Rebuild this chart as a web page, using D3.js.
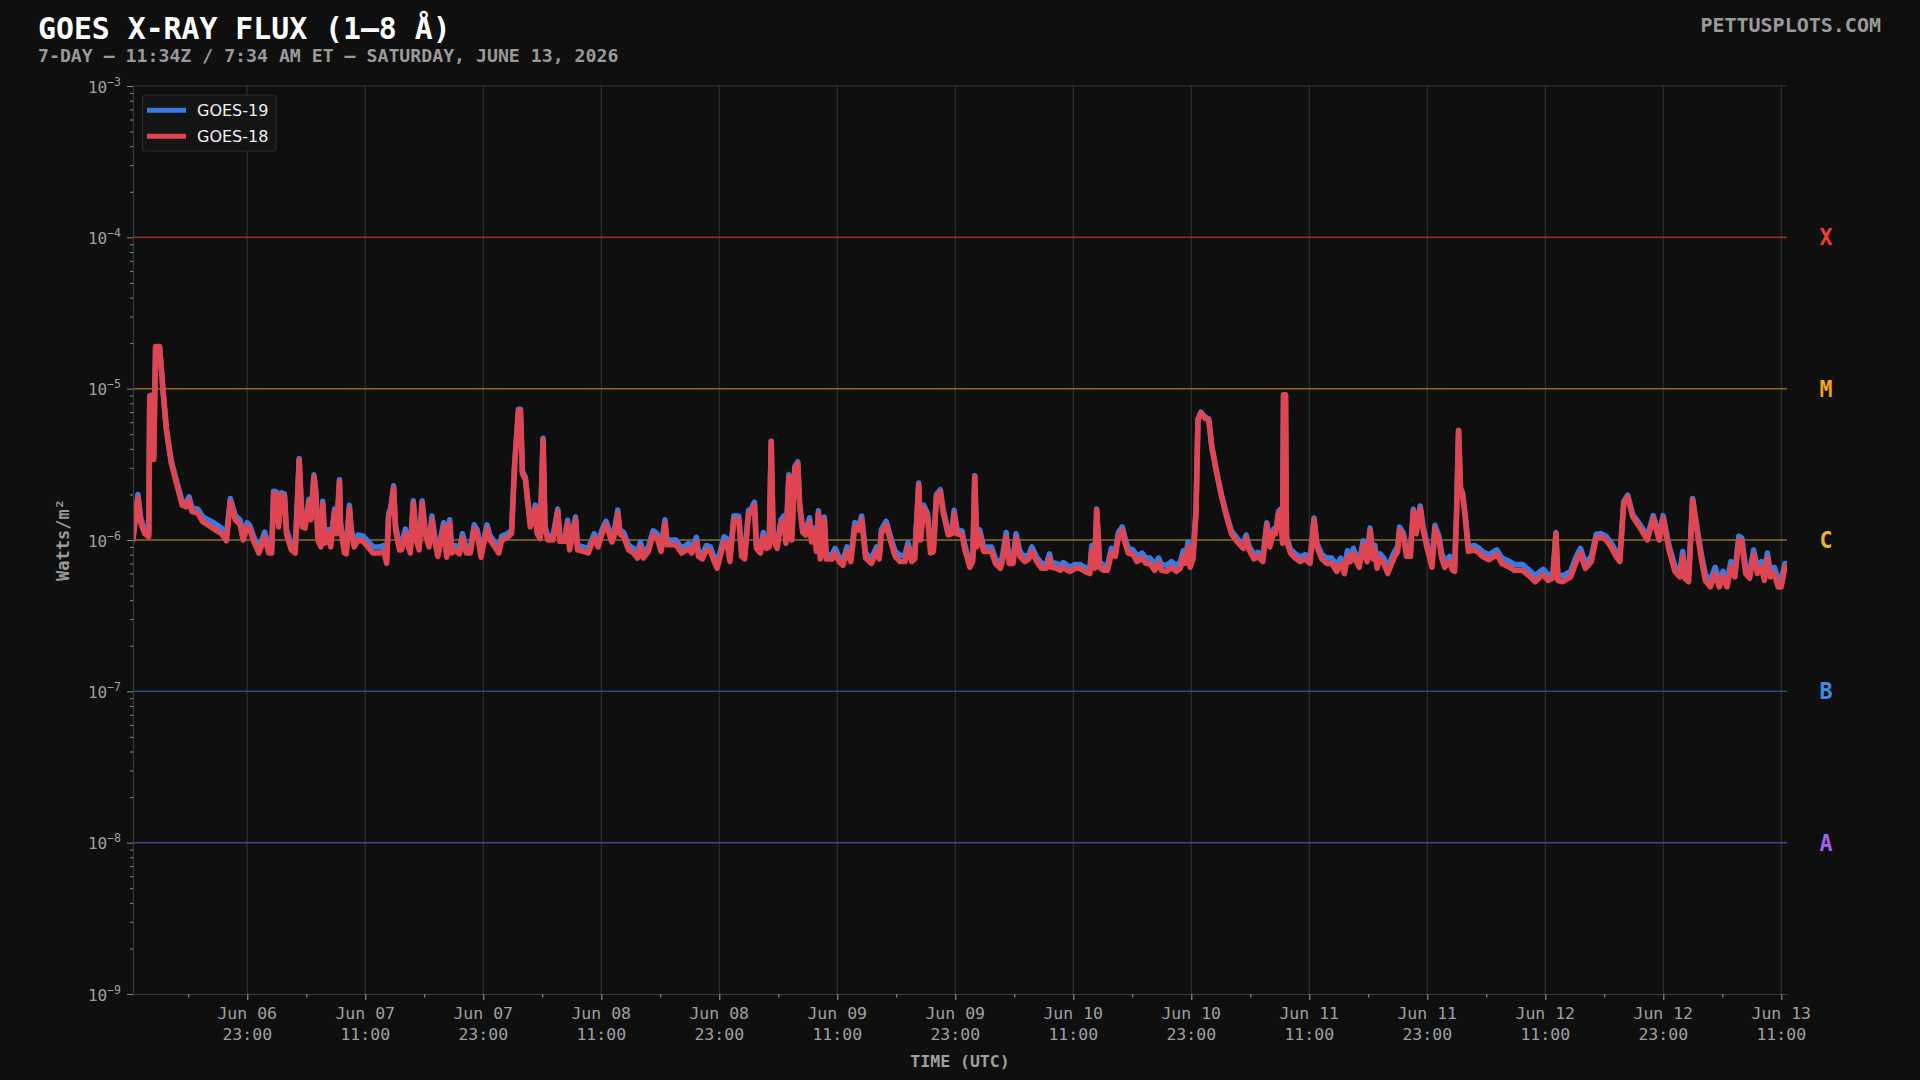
<!DOCTYPE html>
<html>
<head>
<meta charset="utf-8">
<script src="https://cdn.jsdelivr.net/npm/d3@7"></script>
<style>
  html, body { margin: 0; background: #0f0f0f; }
  svg { display: block; }
</style>
</head>
<body>
<svg id="chart" width="1920" height="1080"></svg>
<script>
// window start (UTC) and span in hours
const startTime = Date.UTC(2026, 5, 6, 11, 23);
const spanHours = 168.2;

// sample times, hours after startTime
const hours = [
  0, 0.5, 0.8, 1.2, 1.6, 1.7, 2.0, 2.1, 2.3, 2.7,
  3.1, 3.4, 3.9, 4.4, 5.0, 5.4, 5.7, 6.0, 6.6, 7.1,
  8.2, 9.0, 9.5, 9.9, 10.4, 10.9, 11.2, 11.6, 11.9, 12.3,
  12.8, 13.4, 13.8, 14.1, 14.3, 14.6, 14.8, 15.1, 15.4, 15.6,
  16.1, 16.5, 16.9, 17.2, 17.5, 17.9, 18.1, 18.4, 18.6, 18.8,
  19.1, 19.3, 19.5, 19.9, 20.1, 20.5, 20.7, 21.0, 21.1, 21.5,
  21.7, 22.0, 22.2, 22.5, 22.9, 23.4, 23.9, 24.4, 25.1, 25.5,
  25.8, 26.0, 26.2, 26.5, 26.7, 27.1, 27.3, 27.7, 28.0, 28.2,
  28.5, 28.8, 29.1, 29.4, 29.7, 30.1, 30.4, 30.7, 31.0, 31.6,
  31.9, 32.2, 32.4, 32.8, 33.2, 33.5, 33.9, 34.3, 34.7, 35.0,
  35.4, 35.6, 36.0, 36.3, 36.8, 37.2, 37.5, 38.0, 38.5, 38.8,
  39.2, 39.4, 39.6, 39.9, 40.4, 40.7, 40.9, 41.1, 41.4, 41.7,
  41.9, 42.2, 42.7, 43.2, 43.4, 43.9, 44.2, 44.4, 45.0, 45.2,
  45.8, 46.3, 46.9, 47.3, 47.7, 48.1, 48.7, 48.9, 49.3, 49.5,
  49.9, 50.4, 50.9, 51.3, 51.6, 51.9, 52.4, 52.9, 53.3, 53.7,
  54.1, 54.3, 54.8, 55.2, 55.8, 56.5, 56.8, 57.3, 57.5, 57.9,
  58.3, 58.7, 59.0, 59.4, 59.8, 60.1, 60.4, 60.7, 61.1, 61.6,
  61.9, 62.2, 62.6, 62.8, 63.2, 63.4, 63.8, 64.1, 64.4, 64.7,
  64.9, 65.1, 65.5, 65.9, 66.2, 66.4, 66.7, 67.0, 67.3, 67.6,
  67.8, 68.1, 68.4, 68.8, 69.0, 69.3, 69.5, 69.7, 69.9, 70.3,
  70.5, 71.1, 71.4, 71.8, 72.2, 72.6, 73.0, 73.4, 73.8, 74.1,
  74.5, 75.1, 75.6, 75.9, 76.1, 76.6, 77.0, 77.5, 78.0, 78.5,
  78.8, 79.2, 79.5, 79.9, 80.1, 80.4, 80.8, 81.1, 81.4, 81.7,
  82.1, 82.4, 82.9, 83.3, 83.5, 83.8, 84.3, 84.6, 85.1, 85.4,
  85.6, 85.8, 86.1, 86.5, 86.9, 87.3, 87.7, 88.2, 88.4, 88.8,
  89.1, 89.5, 89.8, 90.2, 90.7, 91.1, 91.4, 91.9, 92.4, 92.9,
  93.2, 93.4, 93.9, 94.3, 94.6, 95.0, 95.3, 95.8, 96.3, 96.8,
  97.3, 97.5, 97.8, 98.0, 98.3, 98.7, 99.1, 99.5, 99.9, 100.2,
  100.6, 100.9, 101.2, 101.7, 102.1, 102.6, 103.0, 103.4, 103.9, 104.3,
  104.6, 105.1, 105.6, 106.1, 106.5, 106.8, 107.0, 107.3, 107.5, 107.8,
  108.1, 108.3, 108.6, 109.0, 109.4, 109.7, 110.2, 110.7, 111.2, 111.7,
  112.3, 112.9, 113.2, 113.5, 114.0, 114.4, 114.9, 115.3, 115.6, 116.0,
  116.2, 116.5, 116.7, 116.9, 117.0, 117.2, 117.3, 117.7, 118.2, 118.7,
  119.2, 119.7, 120.1, 120.4, 120.9, 121.4, 121.9, 122.4, 122.8, 123.2,
  123.5, 123.8, 124.1, 124.4, 124.7, 125.1, 125.3, 125.5, 125.8, 126.1,
  126.3, 126.5, 126.8, 127.2, 127.6, 128.0, 128.3, 128.6, 128.8, 129.2,
  129.5, 129.9, 130.2, 130.5, 130.9, 131.2, 131.6, 132.1, 132.4, 132.8,
  133.1, 133.4, 133.9, 134.2, 134.4, 134.6, 134.8, 135.0, 135.2, 135.5,
  135.8, 136.4, 136.9, 137.2, 137.9, 138.7, 139.2, 140.0, 140.5, 141.3,
  142.1, 142.6, 143.1, 143.4, 143.9, 144.4, 144.7, 144.9, 145.4, 146.2,
  146.7, 147.2, 147.7, 148.3, 148.8, 149.3, 149.8, 150.3, 150.8, 151.2,
  151.6, 152.0, 152.5, 153.2, 154.0, 154.6, 155.2, 155.6, 156.2, 156.8,
  157.3, 157.6, 157.8, 158.2, 158.6, 159.1, 159.5, 159.9, 160.4, 160.9,
  161.3, 161.7, 162.1, 162.5, 162.9, 163.3, 163.6, 164.0, 164.4, 164.8,
  165.2, 165.6, 165.9, 166.2, 166.5, 166.9, 167.3, 167.6, 168.0
];

// GOES-18 flux, in units of 1e-6 W/m²
const goes18 = [
  1.0, 1.9, 1.3, 1.1, 1.05, 8.9, 9.0, 3.4, 18.9, 18.9,
  8.9, 5.3, 3.2, 2.4, 1.7, 1.66, 1.84, 1.54, 1.5, 1.32,
  1.19, 1.1, 0.99, 1.79, 1.36, 1.26, 1.0, 1.22, 1.16, 0.97,
  0.82, 1.05, 0.82, 0.82, 2.03, 2.0, 1.22, 1.98, 1.95, 1.1,
  0.86, 0.82, 3.38, 1.22, 1.2, 1.79, 1.36, 2.62, 2.03, 1.0,
  0.9, 1.72, 0.95, 1.1, 0.9, 1.54, 1.1, 2.43, 1.22, 0.82,
  0.81, 1.62, 1.1, 0.9, 1.0, 0.98, 0.9, 0.82, 0.82, 0.84,
  0.7, 1.43, 1.54, 2.2, 1.16, 0.86, 0.86, 1.1, 0.9, 0.82,
  1.75, 1.0, 0.86, 1.75, 1.1, 0.9, 1.36, 0.97, 0.78, 1.22,
  0.77, 1.29, 0.82, 0.86, 0.81, 1.03, 0.82, 0.82, 1.19, 1.1,
  0.77, 0.9, 1.19, 1.0, 0.9, 0.82, 1.0, 1.03, 1.1, 3.05,
  7.2, 7.2, 2.76, 2.5, 1.22, 1.36, 1.62, 1.1, 1.02, 4.6,
  1.16, 1.0, 1.0, 1.54, 0.98, 0.98, 1.29, 0.86, 1.36, 0.86,
  0.84, 0.82, 1.03, 0.9, 1.1, 1.26, 0.97, 1.05, 1.5, 1.1,
  1.05, 0.86, 0.82, 0.76, 0.9, 0.76, 0.84, 1.08, 1.03, 0.84,
  1.29, 0.93, 0.93, 0.93, 0.82, 0.88, 0.82, 0.97, 0.78, 0.75,
  0.86, 0.84, 0.75, 0.65, 0.82, 0.97, 0.95, 0.72, 1.36, 1.36,
  0.78, 0.75, 1.5, 1.5, 1.7, 0.88, 0.82, 1.05, 0.88, 0.9,
  4.47, 1.0, 0.88, 1.29, 1.36, 0.95, 2.62, 1.0, 2.97, 3.2,
  1.66, 1.13, 1.08, 1.32, 0.97, 1.13, 0.84, 1.5, 0.75, 1.36,
  0.75, 0.75, 0.82, 0.72, 0.68, 0.84, 0.72, 1.22, 1.16, 1.36,
  0.76, 0.7, 0.84, 0.75, 1.1, 1.26, 1.0, 0.78, 0.72, 0.72,
  0.9, 0.72, 0.75, 2.31, 1.0, 1.62, 1.43, 0.82, 0.84, 1.93,
  2.08, 1.5, 1.08, 1.1, 1.5, 1.1, 1.08, 0.86, 0.66, 0.72,
  2.62, 0.9, 1.1, 0.84, 0.84, 0.84, 0.7, 0.65, 0.72, 1.05,
  0.7, 0.7, 1.03, 0.78, 0.72, 0.75, 0.84, 0.72, 0.65, 0.65,
  0.76, 0.66, 0.65, 0.63, 0.66, 0.63, 0.62, 0.65, 0.65, 0.62,
  0.6, 0.86, 0.65, 1.58, 0.66, 0.63, 0.63, 0.82, 0.78, 1.05,
  1.16, 0.95, 0.82, 0.8, 0.72, 0.76, 0.7, 0.7, 0.63, 0.7,
  0.63, 0.62, 0.66, 0.62, 0.65, 0.78, 0.7, 0.9, 0.66, 0.75,
  1.5, 6.2, 6.9, 6.4, 6.2, 4.14, 2.76, 1.93, 1.43, 1.1,
  0.97, 0.88, 1.03, 0.86, 0.75, 0.78, 0.72, 1.26, 0.9, 1.13,
  1.1, 1.5, 1.55, 0.95, 9.1, 9.1, 1.0, 0.82, 0.76, 0.72,
  0.75, 0.7, 1.36, 0.9, 0.75, 0.7, 0.7, 0.62, 0.7, 0.6,
  0.78, 0.72, 0.82, 0.72, 0.66, 0.93, 0.78, 0.72, 1.16, 0.75,
  0.86, 0.65, 0.75, 0.7, 0.6, 0.7, 0.78, 0.84, 1.16, 1.05,
  0.78, 0.78, 1.54, 1.1, 1.62, 1.16, 0.88, 0.66, 1.19, 1.0,
  0.75, 0.66, 0.72, 0.63, 0.62, 1.5, 5.3, 2.14, 2.0, 1.36,
  0.84, 0.86, 0.82, 0.78, 0.74, 0.8, 0.7, 0.66, 0.63, 0.63,
  0.57, 0.53, 0.57, 0.59, 0.54, 0.56, 1.1, 0.54, 0.53, 0.57,
  0.7, 0.82, 0.65, 0.72, 1.03, 1.05, 1.0, 0.9, 0.78, 0.72,
  1.75, 1.93, 1.43, 1.22, 1.0, 1.39, 1.0, 1.39, 0.86, 0.62,
  0.57, 0.78, 0.56, 0.53, 1.84, 1.1, 0.74, 0.54, 0.49, 0.6,
  0.49, 0.57, 0.49, 0.66, 0.57, 1.0, 0.97, 0.6, 0.56, 0.8,
  0.6, 0.66, 0.54, 0.76, 0.57, 0.6, 0.49, 0.49, 0.66
];

// GOES-19 flux, in units of 1e-6 W/m²
const goes19 = [
  1.06, 2.0, 1.38, 1.16, 1.1, 9.0, 9.1, 3.5, 19.0, 19.0,
  9.0, 5.4, 3.3, 2.5, 1.79, 1.75, 1.93, 1.63, 1.6, 1.42,
  1.3, 1.2, 1.07, 1.88, 1.45, 1.35, 1.07, 1.3, 1.24, 1.04,
  0.88, 1.13, 0.88, 0.88, 2.1, 2.08, 1.3, 2.05, 2.02, 1.18,
  0.92, 0.88, 3.45, 1.3, 1.28, 1.86, 1.44, 2.7, 2.1, 1.07,
  0.96, 1.8, 1.02, 1.17, 0.96, 1.6, 1.17, 2.5, 1.3, 0.88,
  0.87, 1.7, 1.17, 0.97, 1.08, 1.06, 0.98, 0.9, 0.9, 0.92,
  0.77, 1.5, 1.62, 2.28, 1.24, 0.93, 0.93, 1.18, 0.97, 0.89,
  1.82, 1.07, 0.93, 1.82, 1.18, 0.97, 1.44, 1.04, 0.84, 1.3,
  0.83, 1.36, 0.88, 0.92, 0.87, 1.1, 0.88, 0.88, 1.26, 1.17,
  0.83, 0.96, 1.26, 1.07, 0.96, 0.88, 1.06, 1.09, 1.16, 3.1,
  7.3, 7.3, 2.85, 2.6, 1.3, 1.43, 1.7, 1.17, 1.08, 4.7,
  1.23, 1.06, 1.06, 1.6, 1.04, 1.04, 1.35, 0.92, 1.42, 0.92,
  0.9, 0.88, 1.1, 0.96, 1.17, 1.33, 1.04, 1.12, 1.58, 1.17,
  1.12, 0.92, 0.88, 0.82, 0.97, 0.82, 0.9, 1.15, 1.1, 0.9,
  1.36, 1.0, 1.0, 1.0, 0.88, 0.95, 0.88, 1.04, 0.84, 0.8,
  0.92, 0.9, 0.8, 0.7, 0.88, 1.05, 1.02, 0.77, 1.44, 1.44,
  0.84, 0.8, 1.58, 1.58, 1.78, 0.94, 0.88, 1.12, 0.94, 0.96,
  4.5, 1.07, 0.94, 1.36, 1.44, 1.02, 2.7, 1.07, 3.05, 3.28,
  1.72, 1.2, 1.15, 1.4, 1.04, 1.2, 0.9, 1.56, 0.8, 1.42,
  0.8, 0.8, 0.88, 0.77, 0.73, 0.9, 0.77, 1.3, 1.24, 1.44,
  0.82, 0.75, 0.9, 0.8, 1.17, 1.33, 1.07, 0.84, 0.79, 0.79,
  0.96, 0.78, 0.8, 2.38, 1.07, 1.7, 1.5, 0.88, 0.9, 2.0,
  2.15, 1.57, 1.15, 1.17, 1.57, 1.17, 1.15, 0.92, 0.7, 0.77,
  2.66, 0.96, 1.17, 0.9, 0.9, 0.9, 0.75, 0.7, 0.77, 1.12,
  0.75, 0.75, 1.1, 0.84, 0.77, 0.8, 0.9, 0.77, 0.7, 0.7,
  0.81, 0.71, 0.7, 0.68, 0.71, 0.68, 0.66, 0.69, 0.69, 0.66,
  0.64, 0.92, 0.7, 1.6, 0.71, 0.68, 0.68, 0.88, 0.84, 1.12,
  1.22, 1.02, 0.88, 0.86, 0.78, 0.82, 0.76, 0.76, 0.69, 0.76,
  0.69, 0.68, 0.72, 0.68, 0.71, 0.85, 0.76, 0.97, 0.72, 0.8,
  1.56, 6.3, 7.0, 6.5, 6.3, 4.2, 2.82, 1.98, 1.48, 1.15,
  1.02, 0.93, 1.08, 0.91, 0.8, 0.83, 0.77, 1.3, 0.95, 1.18,
  1.15, 1.55, 1.6, 1.0, 9.0, 9.0, 1.05, 0.87, 0.81, 0.77,
  0.8, 0.75, 1.4, 0.95, 0.8, 0.76, 0.76, 0.68, 0.76, 0.66,
  0.85, 0.78, 0.88, 0.78, 0.72, 0.99, 0.84, 0.78, 1.2, 0.81,
  0.92, 0.71, 0.81, 0.76, 0.66, 0.76, 0.84, 0.9, 1.22, 1.11,
  0.84, 0.84, 1.6, 1.16, 1.68, 1.22, 0.94, 0.72, 1.25, 1.06,
  0.81, 0.72, 0.78, 0.69, 0.68, 1.55, 5.3, 2.2, 2.06, 1.42,
  0.9, 0.92, 0.88, 0.84, 0.8, 0.86, 0.76, 0.72, 0.69, 0.69,
  0.62, 0.58, 0.62, 0.64, 0.59, 0.6, 1.12, 0.59, 0.58, 0.62,
  0.76, 0.88, 0.7, 0.78, 1.09, 1.1, 1.06, 0.96, 0.84, 0.78,
  1.8, 1.98, 1.48, 1.28, 1.06, 1.45, 1.06, 1.45, 0.92, 0.67,
  0.62, 0.84, 0.61, 0.58, 1.88, 1.15, 0.8, 0.59, 0.54, 0.66,
  0.54, 0.62, 0.54, 0.72, 0.62, 1.06, 1.03, 0.66, 0.61, 0.86,
  0.66, 0.72, 0.6, 0.82, 0.63, 0.66, 0.55, 0.55, 0.7
];

// flare classes
const classNames = ["A", "B", "C", "M", "X"];
const classLevels = [1e-8, 1e-7, 1e-6, 1e-5, 1e-4];
const classTextColors = ["#a660f0", "#3d8ce8", "#f0b41e", "#f4a11c", "#ec3f3f"];
const classLineColors = ["#5b3b8c", "#274b86", "#8c7221", "#94651f", "#9a2e2e"];

// y axis decades
const yTickExponents = [-9, -8, -7, -6, -5, -4, -3];

const seriesNames = ["GOES-19", "GOES-18"];
const seriesColors = ["#3a7ae0", "#e04552"];

const title = "GOES X-RAY FLUX (1–8 Å)";
const subtitle = "7-DAY — 11:34Z / 7:34 AM ET — SATURDAY, JUNE 13, 2026";
const credit = "PETTUSPLOTS.COM";

const mono = "'DejaVu Sans Mono', 'Liberation Mono', monospace";
const sans = "'DejaVu Sans', 'Noto Sans', sans-serif";

const plot = { left: 133, right: 1787, top: 86, bottom: 994 };

const svg = d3.select("#chart");
svg.append("rect").attr("width", 1920).attr("height", 1080).attr("fill", "#0f0f0f");

const hourMs = 3600 * 1000;
const x = d3.scaleUtc()
  .domain([new Date(startTime), new Date(startTime + spanHours * hourMs)])
  .range([plot.left, plot.right]);

const y = d3.scaleLog()
  .domain([1e-9, 1e-3])
  .range([plot.bottom, plot.top]);

const allHours = d3.utcHour.range(x.domain()[0], x.domain()[1]);
const majorTicks = allHours.filter(d => d.getUTCHours() % 12 === 11);
const minorTicks = allHours.filter(d => d.getUTCHours() % 12 === 5);

// vertical grid
svg.append("g")
  .selectAll("line")
  .data(majorTicks)
  .join("line")
  .attr("x1", d => x(d)).attr("x2", d => x(d))
  .attr("y1", plot.top).attr("y2", plot.bottom)
  .attr("stroke", "#2e2e2e")
  .attr("stroke-width", 1.2);

// top border at 1e-3
svg.append("line")
  .attr("x1", plot.left).attr("x2", plot.right)
  .attr("y1", y(1e-3)).attr("y2", y(1e-3))
  .attr("stroke", "#333").attr("stroke-width", 1.2);

// class threshold lines
svg.append("g")
  .selectAll("line")
  .data(classLevels)
  .join("line")
  .attr("x1", plot.left).attr("x2", plot.right)
  .attr("y1", d => y(d)).attr("y2", d => y(d))
  .attr("stroke", (d, i) => classLineColors[i])
  .attr("stroke-width", 1.5);

// class letters
svg.append("g")
  .selectAll("text")
  .data(classLevels)
  .join("text")
  .attr("x", 1826)
  .attr("y", d => y(d) + 8)
  .attr("text-anchor", "middle")
  .attr("font-family", mono)
  .attr("font-weight", "bold")
  .attr("font-size", 23)
  .attr("textLength", 13)
  .attr("lengthAdjust", "spacingAndGlyphs")
  .attr("fill", (d, i) => classTextColors[i])
  .text((d, i) => classNames[i]);

// data lines
svg.append("clipPath").attr("id", "plot-clip")
  .append("rect")
  .attr("x", plot.left).attr("y", plot.top)
  .attr("width", plot.right - plot.left).attr("height", plot.bottom - plot.top);

const line = d3.line()
  .x(d => x(d.t))
  .y(d => y(d.v));

const toPoints = vals => vals.map((v, i) => ({
  t: new Date(startTime + hours[i] * hourMs),
  v: v * 1e-6
}));

const lines = svg.append("g").attr("clip-path", "url(#plot-clip)");
[goes19, goes18].forEach((vals, i) => {
  lines.append("path")
    .datum(toPoints(vals))
    .attr("d", line)
    .attr("fill", "none")
    .attr("stroke", seriesColors[i])
    .attr("stroke-width", 5.5)
    .attr("stroke-linejoin", "round")
    .attr("stroke-linecap", "round");
});

// x axis
const xMajor = svg.append("g")
  .attr("transform", `translate(0,${plot.bottom})`)
  .call(d3.axisBottom(x).tickValues(majorTicks).tickSize(6).tickSizeOuter(0).tickFormat(""));
const xMinor = svg.append("g")
  .attr("transform", `translate(0,${plot.bottom})`)
  .call(d3.axisBottom(x).tickValues(minorTicks).tickSize(3.5).tickSizeOuter(0).tickFormat(""));
[xMajor, xMinor].forEach(g => {
  g.select(".domain").attr("stroke", "#3a3a3a").attr("stroke-width", 1.2);
  g.selectAll(".tick line").attr("stroke", "#8a8a8a").attr("stroke-width", 1.2);
});
xMinor.select(".domain").remove();

const fmtDay = d3.utcFormat("%b %d");
const fmtHour = d3.utcFormat("%H:%M");
const xLabels = svg.append("g")
  .selectAll("text")
  .data(majorTicks)
  .join("text")
  .attr("text-anchor", "middle")
  .attr("font-family", mono)
  .attr("font-size", 16.5)
  .attr("fill", "#a0a0a0");
xLabels.append("tspan").attr("x", d => x(d)).attr("y", 1019).text(d => fmtDay(d));
xLabels.append("tspan").attr("x", d => x(d)).attr("y", 1040).text(d => fmtHour(d));

// y axis
const decades = yTickExponents.map(e => Math.pow(10, e));
const minorY = [];
yTickExponents.slice(0, -1).forEach(e => {
  for (let m = 2; m <= 9; m++) minorY.push(m * Math.pow(10, e));
});
const yMajor = svg.append("g")
  .attr("transform", `translate(${plot.left},0)`)
  .call(d3.axisLeft(y).tickValues(decades).tickSize(6).tickSizeOuter(0).tickFormat(""));
const yMinor = svg.append("g")
  .attr("transform", `translate(${plot.left},0)`)
  .call(d3.axisLeft(y).tickValues(minorY).tickSize(3).tickSizeOuter(0).tickFormat(""));
[yMajor, yMinor].forEach(g => {
  g.select(".domain").attr("stroke", "#3a3a3a").attr("stroke-width", 1.2);
  g.selectAll(".tick line").attr("stroke", "#8a8a8a").attr("stroke-width", 1);
});
yMinor.select(".domain").remove();

const yLabels = svg.append("g")
  .selectAll("text")
  .data(yTickExponents)
  .join("text")
  .attr("x", 121)
  .attr("y", e => y(Math.pow(10, e)) + 6.5)
  .attr("text-anchor", "end")
  .attr("font-family", mono)
  .attr("font-size", 16)
  .attr("fill", "#a0a0a0");
yLabels.append("tspan").text("10");
yLabels.append("tspan").attr("dy", -7).attr("font-size", 11.5).text(e => "−" + Math.abs(e));

// axis titles
svg.append("text")
  .attr("transform", `translate(69,${(plot.top + plot.bottom) / 2}) rotate(-90)`)
  .attr("text-anchor", "middle")
  .attr("font-family", mono)
  .attr("font-weight", "bold")
  .attr("font-size", 17)
  .attr("fill", "#9a9a9a")
  .text("Watts/m²");

svg.append("text")
  .attr("x", (plot.left + plot.right) / 2)
  .attr("y", 1067)
  .attr("text-anchor", "middle")
  .attr("font-family", mono)
  .attr("font-weight", "bold")
  .attr("font-size", 16.5)
  .attr("fill", "#a0a0a0")
  .text("TIME (UTC)");

// legend
const legend = svg.append("g");
legend.append("rect")
  .attr("x", 142.5).attr("y", 95)
  .attr("width", 133.5).attr("height", 56)
  .attr("rx", 3)
  .attr("fill", "#141414")
  .attr("stroke", "#2c2c2c")
  .attr("stroke-width", 1.2);
seriesNames.forEach((name, i) => {
  const ly = 110.3 + i * 26;
  legend.append("line")
    .attr("x1", 147).attr("x2", 186)
    .attr("y1", ly).attr("y2", ly)
    .attr("stroke", seriesColors[i])
    .attr("stroke-width", 5);
  legend.append("text")
    .attr("x", 197).attr("y", ly + 6)
    .attr("font-family", sans)
    .attr("font-size", 16)
    .attr("fill", "#f0f0f0")
    .text(name);
});

// titles
svg.append("text")
  .attr("x", 38).attr("y", 39)
  .attr("font-family", mono)
  .attr("font-weight", "bold")
  .attr("font-size", 29.8)
  .attr("fill", "#ffffff")
  .text(title);

svg.append("text")
  .attr("x", 38).attr("y", 61.5)
  .attr("font-family", mono)
  .attr("font-weight", "bold")
  .attr("font-size", 18.2)
  .attr("fill", "#9a9a9a")
  .text(subtitle);

svg.append("text")
  .attr("x", 1881).attr("y", 31.5)
  .attr("text-anchor", "end")
  .attr("font-family", mono)
  .attr("font-weight", "bold")
  .attr("font-size", 20)
  .attr("fill", "#9a9a9a")
  .text(credit);
</script>
</body>
</html>
